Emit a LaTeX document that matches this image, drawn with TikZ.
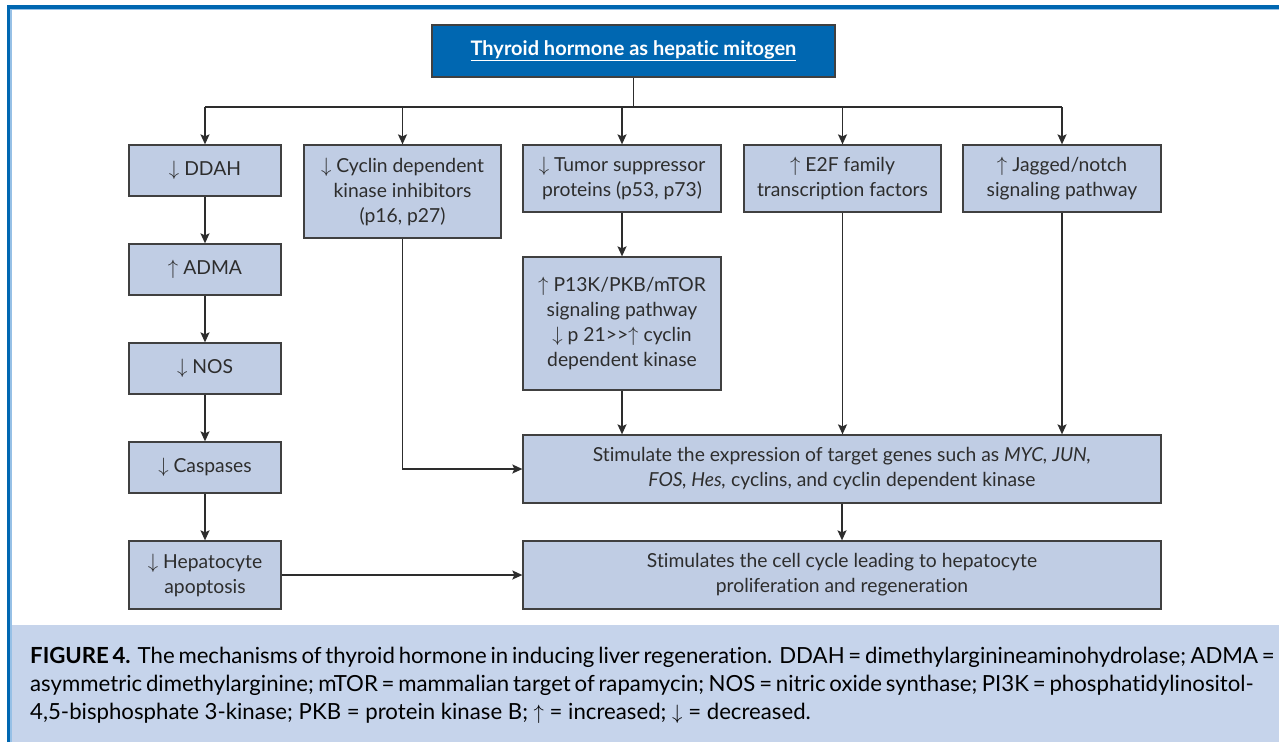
\documentclass[tikz,border=0pt]{standalone}
\usepackage{fontspec}
\setmainfont[Ligatures=NoCommon]{Lato}
\usetikzlibrary{arrows.meta}

\definecolor{hdrblue}{RGB}{0,103,177}
\definecolor{rimblue}{RGB}{150,192,230}
\definecolor{boxfill}{RGB}{192,205,228}
\definecolor{boxline}{RGB}{64,64,64}
\definecolor{capfill}{RGB}{198,212,235}
\definecolor{inkgray}{RGB}{45,45,45}

\newcommand{\upar}{$\uparrow$\ }
\newcommand{\dnar}{$\downarrow$\ }

\tikzset{
  stepbox/.style={draw=boxline, fill=boxfill, line width=1.3pt, inner sep=0pt,
    align=center, text=inkgray, font=\fontsize{19.3}{25}\selectfont},
  titlebox/.style={draw=boxline, fill=hdrblue, line width=1.3pt, inner sep=0pt,
    text=white, font=\fontsize{20}{24}\selectfont\bfseries},
  link/.style={draw=inkgray, line width=1.4pt},
  flow/.style={link, -{Stealth[length=10pt, width=9pt, inset=2pt]}},
  captext/.style={anchor=base west, inner sep=0pt, text=black,
    font=\fontsize{22.2}{27}\selectfont}
}

\begin{document}
\begin{tikzpicture}[x=1pt, y=-1pt]
\useasboundingbox (0,0) rectangle (1279,742);
\fill[white] (0,0) rectangle (1279,742);

% caption band and outer frame
\fill[capfill] (11,625) rectangle (1279,742);
\draw[hdrblue, line width=3.6pt] (8.5,742) -- (8.5,7) -- (1279,7);
\draw[rimblue, line width=1.2pt] (10.9,742) -- (10.9,9.4) -- (1279,9.4);

% title
\node[titlebox, minimum width=403pt, minimum height=52pt] (title) at (633.5,51)
  {\underline{Thyroid hormone as hepatic mitogen}};

% first row
\node[stepbox, minimum width=152pt, minimum height=51pt] (ddah) at (205,170.5) {\dnar DDAH};
\node[stepbox, minimum width=197pt, minimum height=93pt] (cdki) at (402.5,191.5)
  {\dnar Cyclin dependent\\kinase inhibitors\\(p16, p27)};
\node[stepbox, minimum width=198pt, minimum height=67pt] (tsp) at (622,178.5)
  {\dnar Tumor suppressor\\proteins (p53, p73)};
\node[stepbox, minimum width=197pt, minimum height=67pt] (e2f) at (842.5,178.5)
  {\upar E2F family\\transcription factors};
\node[stepbox, minimum width=198pt, minimum height=67pt] (jag) at (1062,178.5)
  {\upar Jagged/notch\\signaling pathway};

% left column
\node[stepbox, minimum width=152pt, minimum height=51pt] (adma) at (205,269.5) {\upar ADMA};
\node[stepbox, minimum width=152pt, minimum height=51pt] (nos) at (205,368.5) {\dnar NOS};
\node[stepbox, minimum width=152pt, minimum height=51pt] (casp) at (205,467.5) {\dnar Caspases};
\node[stepbox, minimum width=152pt, minimum height=68pt] (apop) at (205,575)
  {\dnar Hepatocyte\\apoptosis};

% middle and lower boxes
\node[stepbox, minimum width=198pt, minimum height=133pt] (pik) at (622,323.5)
  {\upar P13K/PKB/mTOR\\signaling pathway\\\dnar p 21{>}{>}$\uparrow$\ cyclin\\dependent kinase};
\node[stepbox, minimum width=638pt, minimum height=68pt] (stim) at (842,469)
  {Stimulate the expression of target genes such as \textit{MYC, JUN,}\\
   \textit{FOS, Hes,} cyclins, and cyclin dependent kinase};
\node[stepbox, minimum width=638pt, minimum height=68pt] (cyc) at (842,575)
  {Stimulates the cell cycle leading to hepatocyte\\proliferation and regeneration};

% distribution bus
\coordinate (bus) at (633.5,107);
\draw[link] (title.south) -- (bus);
\draw[link] (bus -| ddah.north) -- (bus -| jag.north);
\foreach \n in {ddah, cdki, tsp, e2f, jag}
  \draw[flow] (bus -| \n.north) -- (\n.north);

% chains
\draw[flow] (ddah) -- (adma);
\draw[flow] (adma) -- (nos);
\draw[flow] (nos) -- (casp);
\draw[flow] (casp) -- (apop);
\draw[flow] (tsp) -- (pik);
\draw[flow] (pik.south) -- (pik.south |- stim.north);
\draw[flow] (e2f.south) -- (e2f.south |- stim.north);
\draw[flow] (jag.south) -- (jag.south |- stim.north);
\draw[flow] (cdki.south) |- (stim.west);
\draw[flow] (stim) -- (cyc);
\draw[flow] (apop) -- (cyc);

% caption
\node[captext] (cap1) at (30,663) {\makebox[1217pt][s]{\textbf{FIGURE 4.} The mechanisms of thyroid hormone in inducing liver regeneration. DDAH = dimethylarginineaminohydrolase; ADMA =}};
\node[captext] (cap2) at (30,691) {\makebox[1217pt][s]{asymmetric dimethylarginine; mTOR = mammalian target of rapamycin; NOS = nitric oxide synthase; PI3K = phosphatidylinositol-}};
\node[captext] (cap3) at (30,719) {4,5-bisphosphate 3-kinase; PKB = protein kinase B; \upar = increased; \dnar = decreased.};
\end{tikzpicture}
\end{document}
